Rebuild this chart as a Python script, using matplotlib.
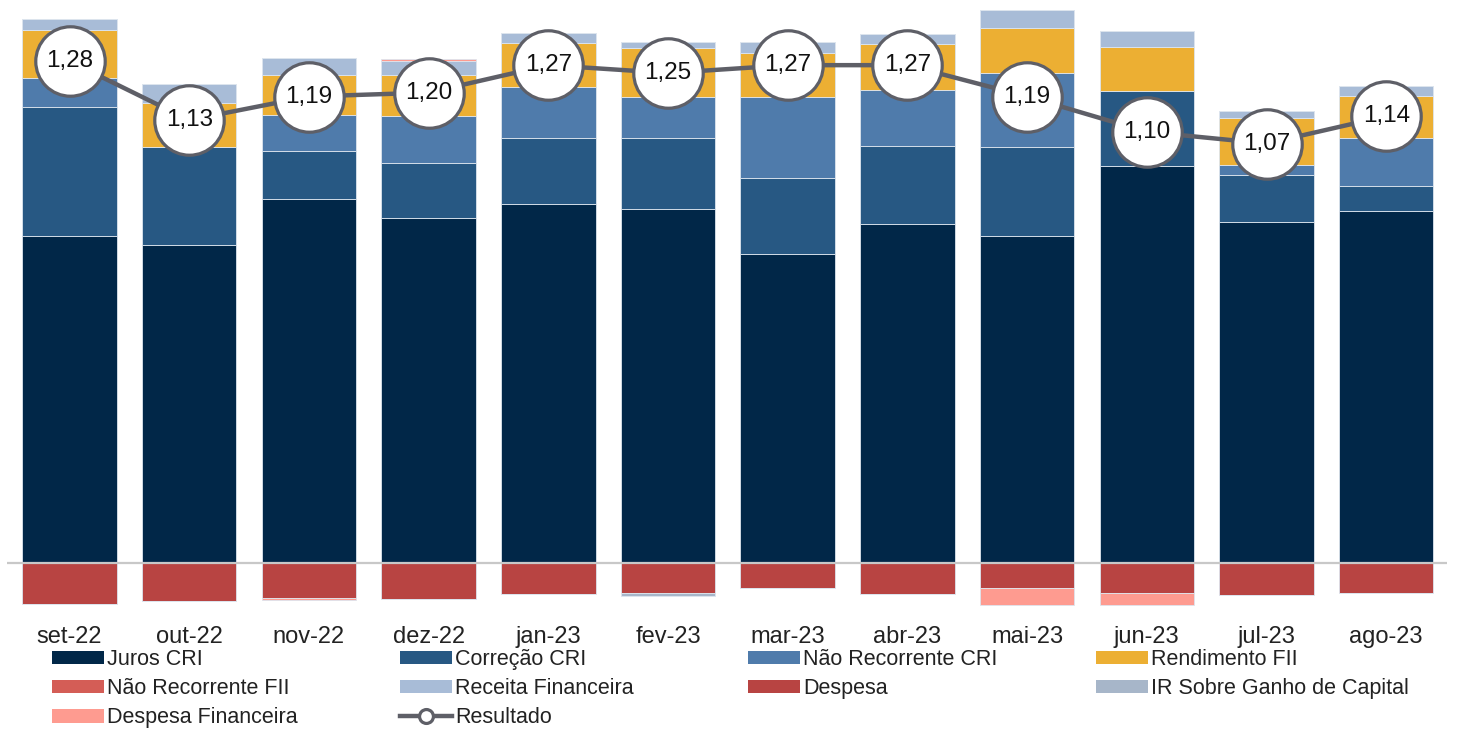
import numpy as np
import matplotlib
matplotlib.use("Agg")
import matplotlib.pyplot as plt
from matplotlib.patches import Patch
from matplotlib.lines import Line2D

plt.rcParams['font.family'] = ['Liberation Sans', 'DejaVu Sans']

meses = ['set-22', 'out-22', 'nov-22', 'dez-22', 'jan-23', 'fev-23',
         'mar-23', 'abr-23', 'mai-23', 'jun-23', 'jul-23', 'ago-23']

# valores por cota (R$)
juros_cri = [0.835, 0.811, 0.928, 0.879, 0.915, 0.902, 0.788, 0.864, 0.835, 1.012, 0.869, 0.897]
correcao_cri = [0.329, 0.251, 0.124, 0.141, 0.168, 0.181, 0.193, 0.199, 0.226, 0.193, 0.122, 0.066]
nao_rec_cri = [0.074, 0.000, 0.091, 0.120, 0.131, 0.106, 0.208, 0.144, 0.190, 0.000, 0.024, 0.120]
rend_fii = [0.122, 0.112, 0.103, 0.104, 0.112, 0.124, 0.113, 0.116, 0.115, 0.111, 0.120, 0.109]
nao_rec_fii = [0.0] * 12
receita_fin = [0.027, 0.048, 0.043, 0.037, 0.026, 0.016, 0.027, 0.026, 0.045, 0.042, 0.019, 0.026]
despesa = [-0.105, -0.097, -0.089, -0.091, -0.078, -0.076, -0.065, -0.080, -0.065, -0.077, -0.081, -0.077]
ir_ganho = [0, 0, 0, 0, 0, -0.008, 0, 0, 0, 0, 0, 0]
despesa_fin = [0, 0, -0.006, 0.005, 0, 0, 0, 0, -0.042, -0.030, 0, 0]
resultado = [1.28, 1.13, 1.19, 1.20, 1.27, 1.25, 1.27, 1.27, 1.19, 1.10, 1.07, 1.14]
rotulos = ['1,28', '1,13', '1,19', '1,20', '1,27', '1,25', '1,27', '1,27', '1,19', '1,10', '1,07', '1,14']

series = [
    ('Juros CRI', juros_cri, '#012748'),
    ('Correção CRI', correcao_cri, '#275883'),
    ('Não Recorrente CRI', nao_rec_cri, '#4f7bab'),
    ('Rendimento FII', rend_fii, '#ecaf33'),
    ('Não Recorrente FII', nao_rec_fii, '#d45d56'),
    ('Receita Financeira', receita_fin, '#a8bcd7'),
    ('Despesa', despesa, '#b84442'),
    ('IR Sobre Ganho de Capital', ir_ganho, '#a7b6c9'),
    ('Despesa Financeira', despesa_fin, '#fe9b90'),
]

fig = plt.figure(figsize=(14.57, 7.29), dpi=100)
W, H = 1457, 729
ax = fig.add_axes([7 / W, 1 - 612 / H, 1440 / W, 612 / H])

x = np.arange(len(meses))
pos_base = np.zeros(len(meses))
neg_base = np.zeros(len(meses))
handles = {}
for nome, vals, cor in series:
    v = np.array(vals, dtype=float)
    p = np.where(v > 0, v, 0)
    n = np.where(v < 0, v, 0)
    ax.bar(x, p, 0.79, bottom=pos_base, color=cor, edgecolor='#dde5ee', linewidth=0.6, zorder=2)
    ax.bar(x, n, 0.79, bottom=neg_base, color=cor, edgecolor='#dde5ee', linewidth=0.6, zorder=2)
    pos_base += p
    neg_base += n
    handles[nome] = Patch(facecolor=cor, edgecolor='none')

ax.axhline(0, color='#c8c8c8', lw=1.6, zorder=3)

cinza = '#5e5f67'
ax.plot(x, resultado, color=cinza, lw=3.2, marker='o', markersize=50,
        markerfacecolor='white', markeredgecolor=cinza, markeredgewidth=2.3, zorder=4)
for xi, yi, t in zip(x, resultado, rotulos):
    ax.text(xi, yi, t, ha='center', va='center', fontsize=17.5, color='#111111', zorder=5)

ax.set_xlim((7 - 69.5) / 119.7, (1447 - 69.5) / 119.7)
ax.set_ylim((563 - 612) / 392, 563 / 392)
ax.set_xticks(x)
ax.set_xticklabels(meses, fontsize=17, color='#222222')
ax.tick_params(axis='x', length=0, pad=10)
ax.set_yticks([])
for s in ax.spines.values():
    s.set_visible(False)

handles['Resultado'] = Line2D([0], [0], color=cinza, lw=3.2, marker='o', markersize=10,
                              markerfacecolor='white', markeredgecolor=cinza, markeredgewidth=2.3)

colunas = [
    (52, ['Juros CRI', 'Não Recorrente FII', 'Despesa Financeira']),
    (400, ['Correção CRI', 'Receita Financeira', 'Resultado']),
    (748, ['Não Recorrente CRI', 'Despesa']),
    (1096, ['Rendimento FII', 'IR Sobre Ganho de Capital']),
]
for px, nomes in colunas:
    leg = fig.legend([handles[n] for n in nomes], nomes, loc='upper left',
                     bbox_to_anchor=(px / W, 1 - 649 / H), frameon=False,
                     fontsize=15.5, borderpad=0, borderaxespad=0, handlelength=2.42,
                     handleheight=0.6, handletextpad=0.15, labelspacing=0.38)
    for t in leg.get_texts():
        t.set_color('#222222')

fig.savefig('out.png', dpi=100)
